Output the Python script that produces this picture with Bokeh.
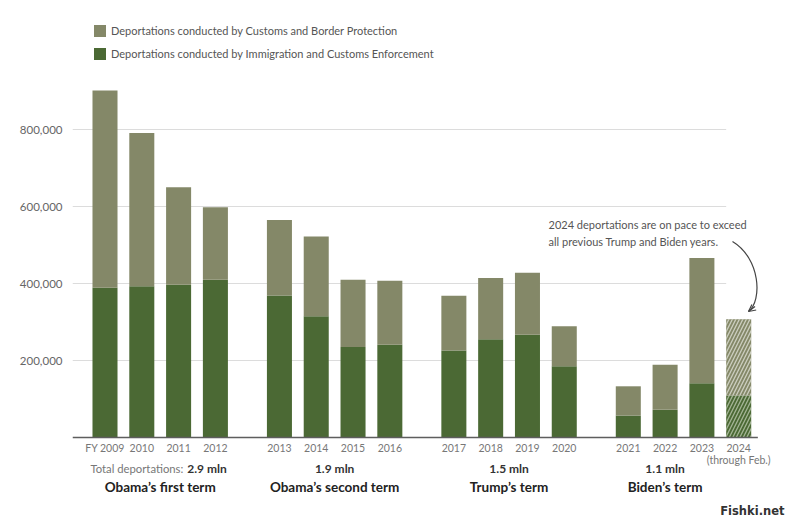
from bokeh.plotting import figure
from bokeh.models import (ColumnDataSource, FixedTicker, NumeralTickFormatter,
                          Legend, LegendItem, Arrow, OpenHead, Label)
from bokeh.core.properties import value
from bokeh.embed import file_html
from bokeh.resources import INLINE

# ---------------- data ----------------
years = ["FY 2009", "2010", "2011", "2012", "2013", "2014", "2015", "2016",
         "2017", "2018", "2019", "2020", "2021", "2022", "2023", "2024"]
ice = [389000, 393000, 397000, 410000, 369000, 315000, 235000, 241000,
       226000, 255000, 267000, 185000, 57000, 72000, 141000, 109000]
total = [901000, 791000, 650000, 598000, 565000, 522000, 410000, 407000,
         368000, 414000, 428000, 289000, 133000, 189000, 466000, 307000]
group = [0, 0, 0, 0, 1, 1, 1, 1, 2, 2, 2, 2, 3, 3, 3, 3]
partial = [False] * 15 + [True]
terms = ["Obama’s first term", "Obama’s second term", "Trump’s term", "Biden’s term"]
term_totals = ["2.9 mln", "1.9 mln", "1.5 mln", "1.1 mln"]
y_ticks = [200000, 400000, 600000, 800000]
legend_labels = ["Deportations conducted by Customs and Border Protection",
                 "Deportations conducted by Immigration and Customs Enforcement"]
note_lines = ["2024 deportations are on pace to exceed",
              "all previous Trump and Biden years."]

# ---------------- styles ----------------
CBP_COLOR = "#848868"
ICE_COLOR = "#4b6934"
FONT = "Lato"
GRID_COLOR = "#dcdcdc"
TEXT_GRAY = "#666666"

# ---------------- layout ----------------
W, H = 792, 516
BORDER_L, BORDER_T = 72, 15
PX_PER_UNIT = 36.8
PX_PER_VAL = 0.000385
GROUP_GAP = 0.74
BAR_W = 0.68

xpos = [i + g * GROUP_GAP for i, g in enumerate(group)]
x_start = -32.5 / PX_PER_UNIT
x_end = x_start + (W - BORDER_L) / PX_PER_UNIT
y_end = (437 - BORDER_T) / PX_PER_VAL
y_start = -(H - 437) / PX_PER_VAL


def px_x(page_x):
    return x_start + (page_x - BORDER_L) / PX_PER_UNIT


def px_y(page_y):
    return (437 - page_y) / PX_PER_VAL


full_idx = [k for k in range(len(years)) if not partial[k]]
part_idx = [k for k in range(len(years)) if partial[k]]

src_full = ColumnDataSource(dict(
    x=[xpos[k] for k in full_idx], ice=[ice[k] for k in full_idx],
    total=[total[k] for k in full_idx]))
src_part = ColumnDataSource(dict(
    x=[xpos[k] for k in part_idx], ice=[ice[k] for k in part_idx],
    total=[total[k] for k in part_idx]))

p = figure(width=W, height=H, output_backend="svg", toolbar_location=None,
           x_range=(x_start, x_end), y_range=(y_start, y_end),
           x_axis_location=None, min_border_left=BORDER_L, min_border_right=0,
           min_border_top=BORDER_T, min_border_bottom=0)
p.outline_line_color = None
p.grid.visible = False
p.background_fill_color = "white"
p.border_fill_color = "white"

# y axis
p.yaxis.ticker = FixedTicker(ticks=y_ticks)
p.yaxis.formatter = NumeralTickFormatter(format="0,0")
p.yaxis.axis_line_color = None
p.yaxis.major_tick_line_color = None
p.yaxis.minor_tick_line_color = None
p.yaxis.major_label_standoff = 4
p.yaxis.major_label_text_font = FONT
p.yaxis.major_label_text_font_size = "11.5px"
p.yaxis.major_label_text_color = TEXT_GRAY

# gridlines (stop before the partial-year bar)
grid_end = xpos[part_idx[0]] - BAR_W / 2
p.segment(x0=[x_start] * len(y_ticks), x1=[grid_end] * len(y_ticks),
          y0=y_ticks, y1=y_ticks, line_color=GRID_COLOR, line_width=1.2)

# bars
r_ice = p.vbar(x="x", width=BAR_W, bottom=0, top="ice", source=src_full,
               fill_color=ICE_COLOR, line_color=None)
r_cbp = p.vbar(x="x", width=BAR_W, bottom="ice", top="total", source=src_full,
               fill_color=CBP_COLOR, line_color=None)
p.vbar(x="x", width=BAR_W, bottom=0, top="ice", source=src_part,
       fill_color=ICE_COLOR, line_color=None, hatch_pattern="/",
       hatch_color="#c9d4bd", hatch_alpha=0.7, hatch_weight=1.3, hatch_scale=7)
p.vbar(x="x", width=BAR_W, bottom="ice", top="total", source=src_part,
       fill_color=CBP_COLOR, line_color=None, hatch_pattern="/",
       hatch_color="#e4e6dc", hatch_alpha=0.75, hatch_weight=1.3, hatch_scale=7)

# baseline
p.segment(x0=[x_start], x1=[xpos[-1] + 0.52], y0=[0], y1=[0],
          line_color="#5e5e5e", line_width=1.6)

# year tick labels
p.text(x=xpos, y=[0] * len(xpos), text=years, y_offset=10,
       text_align="center", text_baseline="middle", text_font=value(FONT),
       text_font_size="10.5px", text_color="#777777")
p.text(x=[xpos[part_idx[0]]], y=[0], text=["(through Feb.)"], y_offset=22,
       text_align="center", text_baseline="middle", text_font=value(FONT),
       text_font_size="10.5px", text_color="#777777")

# term labels
centers = []
for g in range(len(terms)):
    xs = [xpos[k] for k in range(len(years)) if group[k] == g and not partial[k]]
    centers.append(sum(xs) / len(xs))

p.text(x=[centers[0]], y=[0], text=["Total deportations: "], x_offset=26,
       y_offset=31, text_align="right", text_baseline="middle",
       text_font=value(FONT), text_font_size="11.3px", text_color="#777777")
p.text(x=[centers[0]], y=[0], text=[term_totals[0]], x_offset=27, y_offset=31,
       text_align="left", text_baseline="middle", text_font=value(FONT),
       text_font_size="12px", text_font_style="bold", text_color="#333333")
p.text(x=centers[1:], y=[0] * 3, text=term_totals[1:], y_offset=31,
       text_align="center", text_baseline="middle", text_font=value(FONT),
       text_font_size="12px", text_font_style="bold", text_color="#333333")
p.text(x=centers, y=[0] * len(centers), text=terms, y_offset=49,
       text_align="center", text_baseline="middle", text_font=value(FONT),
       text_font_size="13.5px", text_font_style="bold", text_color="#222222")

# note + arrow
p.text(x=[px_x(548)] * 2, y=[px_y(224), px_y(241)], text=note_lines,
       text_align="left", text_baseline="middle", text_font=value(FONT),
       text_font_size="11px", text_color="#555555")
p.bezier(x0=[px_x(732)], y0=[px_y(241)], x1=[px_x(748)], y1=[px_y(311)],
         cx0=[px_x(760)], cy0=[px_y(258)], cx1=[px_x(762)], cy1=[px_y(300)],
         line_color="#444444", line_width=1.2)
p.add_layout(Arrow(end=OpenHead(size=7, line_color="#444444", line_width=1.2),
                   x_start=px_x(754.5), y_start=px_y(306), x_end=px_x(748),
                   y_end=px_y(311), line_color="#444444", line_width=1.2))

# watermark
p.text(x=[px_x(784)], y=[px_y(510)], text=["Fishki.net"], text_align="right",
       text_baseline="middle", text_font=value("DejaVu Sans"),
       text_font_size="11.5px", text_font_style="bold", text_color="#333333")

# legend
legend = Legend(items=[LegendItem(label=legend_labels[0], renderers=[r_cbp]),
                       LegendItem(label=legend_labels[1], renderers=[r_ice])],
                location=(20, 455), orientation="vertical",
                glyph_width=15, glyph_height=15, label_height=15, spacing=8,
                padding=0, margin=0, border_line_color=None,
                background_fill_alpha=0, label_standoff=4,
                label_text_font=FONT, label_text_font_size="11px",
                label_text_color="#555555")
p.add_layout(legend)

open("out.html", "w").write(file_html(p, INLINE))
